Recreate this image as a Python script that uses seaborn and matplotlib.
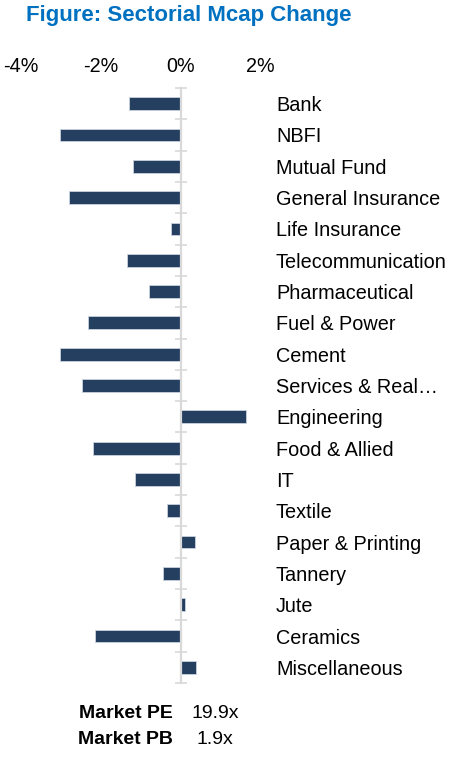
import matplotlib
matplotlib.use("Agg")
import matplotlib.pyplot as plt
import seaborn as sns
import numpy as np
import pandas as pd

# ---- data ----
sectors = ["Bank", "NBFI", "Mutual Fund", "General Insurance", "Life Insurance",
           "Telecommunication", "Pharmaceutical", "Fuel & Power", "Cement",
           "Services & Real…", "Engineering", "Food & Allied", "IT", "Textile",
           "Paper & Printing", "Tannery", "Jute", "Ceramics", "Miscellaneous"]
mcap_change = [-1.30, -3.01, -1.20, -2.80, -0.25, -1.34, -0.78, -2.32, -3.02,
               -2.46, 1.64, -2.20, -1.15, -0.33, 0.35, -0.43, 0.12, -2.15, 0.39]
x_ticks = [-4, -2, 0, 2]
x_tick_labels = ["-4%", "-2%", "0%", "2%"]
title = "Figure: Sectorial Mcap Change"
footer_labels = ["Market PE", "Market PB"]
footer_values = ["19.9x", "1.9x"]

df = pd.DataFrame({"Sector": sectors, "Change": mcap_change})

sns.set_theme(style="white")
plt.rcParams['font.family'] = ['Liberation Sans', 'DejaVu Sans']

W, H = 469, 763
fig = plt.figure(figsize=(W / 100, H / 100), dpi=100)

x_lo, x_hi = -4.4, 2.3
ax_left_px = 180.5 + x_lo * 40
ax_right_px = 180.5 + x_hi * 40
ax_top_px, ax_bot_px = 88, 683
ax = fig.add_axes([ax_left_px / W, (H - ax_bot_px) / H,
                   (ax_right_px - ax_left_px) / W, (ax_bot_px - ax_top_px) / H])

sns.barplot(data=df, x="Change", y="Sector", orient="h", color="#253F60",
            saturation=1, width=0.41, edgecolor="#c8d2de", linewidth=0.6, ax=ax)

ax.set_xlim(x_lo, x_hi)
ax.set_ylim(len(sectors) - 0.5, -0.5)
ax.set_xlabel("")
ax.set_ylabel("")

# x axis on top
ax.xaxis.tick_top()
ax.set_xticks(x_ticks)
ax.set_xticklabels(x_tick_labels)
ax.tick_params(axis="x", length=0, pad=8.5, labelsize=14.2, colors="black")

# y axis: spine at zero, labels on right
for s in ["top", "right", "bottom"]:
    ax.spines[s].set_visible(False)
ax.spines["left"].set_position(("data", 0))
ax.spines["left"].set_color("#d9d9d9")
ax.spines["left"].set_linewidth(1.6)
ax.spines["left"].set_zorder(5)

ax.set_yticks(np.arange(len(sectors)))
ax.set_yticklabels(sectors)
ax.set_yticks(np.arange(len(sectors) + 1) - 0.5, minor=True)
ax.tick_params(axis="y", which="major", length=0, left=False, right=False,
               labelleft=False, labelright=True, pad=2.5, labelsize=14.3,
               labelcolor="black")
ax.tick_params(axis="y", which="minor", left=True, right=False, direction="inout",
               length=8, width=1.1, color="#d6d6d6")
for lbl in ax.get_yticklabels():
    lbl.set_horizontalalignment("left")

ax.grid(False)

fig.text(26 / W, 1 - 16 / H, title, color="#0070C0", fontsize=16,
         fontweight="bold", ha="left", va="center")

for i, (lab, val) in enumerate(zip(footer_labels, footer_values)):
    y = 1 - (713 + i * 27) / H
    fig.text(173 / W, y, lab, fontsize=14, fontweight="bold", ha="right",
             va="center", color="black")
    fig.text(215 / W, y, val, fontsize=14, ha="center", va="center", color="black")

fig.savefig("out.png", dpi=100)
